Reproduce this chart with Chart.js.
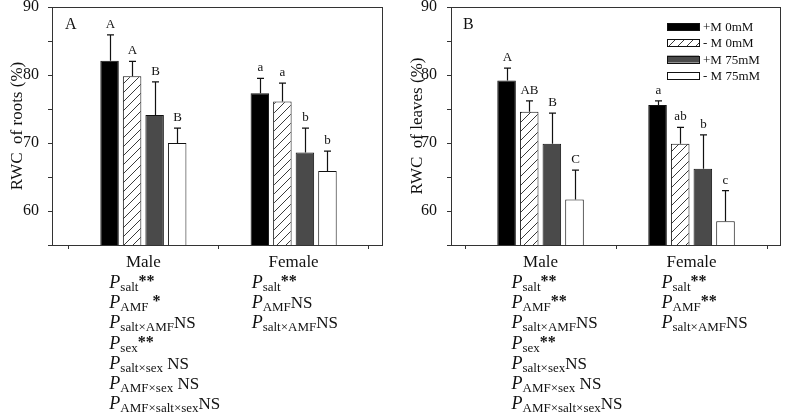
<!DOCTYPE html>
<html><head><meta charset="utf-8">
<script src="https://cdn.jsdelivr.net/npm/chart.js@4.4.0/dist/chart.umd.min.js"></script>
<style>
html,body{margin:0;padding:0;background:#fff;}
#wrap{position:relative;width:787px;height:416px;overflow:hidden;}
.c{position:absolute;top:0;height:416px;}
</style></head><body>
<div id="wrap">
<div class="c" style="left:0;width:400px"><canvas id="a"></canvas></div>
<div class="c" style="left:400px;width:387px"><canvas id="b"></canvas></div>
</div>
<script>
// ---------- data ----------
const categories = ['Male', 'Female'];
const seriesLabels = ['+M 0mM', '- M 0mM', '+M 75mM', '- M 75mM'];
const yTickLabels = ['60', '70', '80', '90'];

// Panel A: RWC of roots (%)
const rootsPlusM0   = [82.1, 77.3];
const rootsMinusM0  = [79.8, 76.1];
const rootsPlusM75  = [74.1, 68.6];
const rootsMinusM75 = [70.0, 65.9];
const rootsErrPlusM0   = [3.8, 2.2];
const rootsErrMinusM0  = [2.2, 2.7];
const rootsErrPlusM75  = [4.9, 3.6];
const rootsErrMinusM75 = [2.2, 2.9];
const rootsLetPlusM0   = ['A', 'a'];
const rootsLetMinusM0  = ['A', 'a'];
const rootsLetPlusM75  = ['B', 'b'];
const rootsLetMinusM75 = ['B', 'b'];

// Panel B: RWC of leaves (%)
const leavesPlusM0   = [79.2, 75.6];
const leavesMinusM0  = [74.6, 69.9];
const leavesPlusM75  = [69.9, 66.2];
const leavesMinusM75 = [61.7, 58.5];
const leavesErrPlusM0   = [1.8, 0.6];
const leavesErrMinusM0  = [1.6, 2.4];
const leavesErrPlusM75  = [4.5, 5.0];
const leavesErrMinusM75 = [4.3, 4.5];
const leavesLetPlusM0   = ['A', 'a'];
const leavesLetMinusM0  = ['AB', 'ab'];
const leavesLetPlusM75  = ['B', 'b'];
const leavesLetMinusM75 = ['C', 'c'];

// ANOVA annotations: [subscript, result]
const rootsStatsMale = [['salt','**'],['AMF',' *'],['salt×AMF','NS'],['sex','**'],['salt×sex',' NS'],['AMF×sex',' NS'],['AMF×salt×sex','NS']];
const rootsStatsFemale = [['salt','**'],['AMF','NS'],['salt×AMF','NS']];
const leavesStatsMale = [['salt','**'],['AMF','**'],['salt×AMF','NS'],['sex','**'],['salt×sex','NS'],['AMF×sex',' NS'],['AMF×salt×sex','NS']];
const leavesStatsFemale = [['salt','**'],['AMF','**'],['salt×AMF','NS']];

// ---------- styles ----------
const SERIF = '"Liberation Serif", "DejaVu Serif", serif';
function hatch() {
  const c = document.createElement('canvas'); c.width = 9; c.height = 9;
  const g = c.getContext('2d');
  g.fillStyle = '#fff'; g.fillRect(0, 0, 9, 9);
  g.strokeStyle = '#3a3a3a'; g.lineWidth = 1;
  g.beginPath();
  g.moveTo(-1, 10); g.lineTo(10, -1);
  g.moveTo(-1, 1); g.lineTo(1, -1);
  g.moveTo(8, 10); g.lineTo(10, 8);
  g.stroke();
  return g.createPattern(c, 'repeat');
}
const fills = ['#000000', hatch(), '#4a4a4a', '#ffffff'];

function makeDatasets(vals, errs, lets) {
  return vals.map((arr, k) => ({
    label: seriesLabels[k],
    data: arr.map((v, i) => ({x: i, y: v})),
    errors: errs[k],
    letters: lets[k],
    backgroundColor: fills[k],
    borderColor: '#111',
    borderWidth: 1,
    borderSkipped: false,
    barPercentage: 0.82,
    categoryPercentage: 0.6
  }));
}

const errorBars = {
  id: 'errorBars',
  afterDatasetsDraw(chart) {
    const ctx = chart.ctx, ys = chart.scales.y;
    chart.data.datasets.forEach((ds, di) => {
      chart.getDatasetMeta(di).data.forEach((bar, i) => {
        const top = ys.getPixelForValue(ds.data[i].y + ds.errors[i]);
        const x = Math.round(bar.x) + 0.5;
        ctx.save();
        ctx.strokeStyle = '#111'; ctx.lineWidth = 1.2;
        ctx.beginPath();
        ctx.moveTo(x, bar.y); ctx.lineTo(x, top);
        ctx.moveTo(x - 3.5, top); ctx.lineTo(x + 3.5, top);
        ctx.stroke();
        ctx.fillStyle = '#111';
        ctx.font = '13px ' + SERIF;
        ctx.textAlign = 'center'; ctx.textBaseline = 'alphabetic';
        ctx.fillText(ds.letters[i], x, top - 7);
        ctx.restore();
      });
    });
  }
};

const frame = {
  id: 'frame',
  afterDraw(chart, args, opts) {
    const {left, top, right, bottom} = chart.chartArea;
    const ctx = chart.ctx;
    ctx.save();
    ctx.strokeStyle = '#333'; ctx.lineWidth = 1;
    ctx.strokeRect(Math.round(left) + 0.5, Math.round(top) + 0.5, Math.round(right - left), Math.round(bottom - top));
    ctx.fillStyle = '#111';
    ctx.font = '16px ' + SERIF;
    ctx.textAlign = 'left'; ctx.textBaseline = 'alphabetic';
    ctx.fillText(opts.letter, left + opts.letterDx, top + 22);
    ctx.restore();
  }
};

const stats = {
  id: 'stats',
  afterDraw(chart, args, opts) {
    const ctx = chart.ctx, xs = chart.scales.x;
    opts.groups.forEach((rows, gi) => {
      const x0 = xs.getPixelForValue(gi) + opts.dx[gi];
      rows.forEach((row, ri) => {
        const y = opts.y0 + ri * opts.step;
        ctx.save();
        ctx.fillStyle = '#111'; ctx.textAlign = 'left'; ctx.textBaseline = 'alphabetic';
        ctx.font = 'italic 18px ' + SERIF;
        ctx.fillText('P', x0, y);
        let cx = x0 + ctx.measureText('P').width;
        ctx.font = '13px ' + SERIF;
        ctx.fillText(row[0], cx, y + 3);
        cx += ctx.measureText(row[0]).width;
        if (row[1].indexOf('*') >= 0) {
          ctx.font = 'bold 16px ' + SERIF;
          ctx.fillText(row[1], cx, y - 2);
        } else {
          ctx.font = '17px ' + SERIF;
          ctx.fillText(row[1], cx, y);
        }
        ctx.restore();
      });
    });
  }
};

const legendBox = {
  id: 'legendBox',
  afterDraw(chart, args, opts) {
    if (!opts.show) return;
    const ctx = chart.ctx, ca = chart.chartArea;
    chart.data.datasets.forEach((ds, k) => {
      const bx = ca.right - 113, cy = ca.top + 19.5 + k * 16.3;
      ctx.save();
      ctx.fillStyle = ds.backgroundColor;
      ctx.fillRect(bx, cy - 3.5, 32, 7);
      ctx.strokeStyle = '#111'; ctx.lineWidth = 1;
      ctx.strokeRect(Math.round(bx) + 0.5, Math.round(cy - 3.5) + 0.5, 32, 7);
      ctx.fillStyle = '#111';
      ctx.font = '13px ' + SERIF;
      ctx.textAlign = 'left'; ctx.textBaseline = 'middle';
      ctx.fillText(ds.label, bx + 36, cy + 1);
      ctx.restore();
    });
  }
};

function makeChart(id, datasets, cfg) {
  return new Chart(document.getElementById(id), {
    type: 'bar',
    data: {datasets},
    plugins: [errorBars, frame, stats, legendBox],
    options: {
      responsive: true, maintainAspectRatio: false, animation: false,
      devicePixelRatio: 1,
      layout: {padding: {left: 0, top: 7, right: cfg.padRight, bottom: 0}},
      plugins: {
        legend: {display: false}, tooltip: {enabled: false},
        frame: {letter: cfg.letter, letterDx: cfg.letterDx},
        stats: {groups: cfg.groups, dx: cfg.dx, y0: 288, step: 20.2},
        legendBox: {show: cfg.legend}
      },
      scales: {
        x: {
          type: 'linear', min: cfg.xmin, max: cfg.xmax, offset: false,
          afterBuildTicks: s => { s.ticks = categories.map((c, i) => ({value: i})); },
          ticks: {
            callback: v => categories[v] !== undefined ? categories[v] : '',
            font: {family: SERIF, size: 17}, color: '#111', padding: 3,
            maxRotation: 0, autoSkip: false
          },
          grid: {display: true, drawOnChartArea: false, drawTicks: true, tickLength: 4, color: '#333'},
          border: {display: true, color: '#333', width: 1},
          afterFit: s => { s.height = 171; s.paddingLeft = 0; s.paddingRight = 0; }
        },
        y: {
          min: 55, max: 90,
          ticks: {
            stepSize: 5,
            callback: v => yTickLabels.includes(String(v)) ? String(v) : '',
            font: {family: SERIF, size: 16, lineHeight: 1}, color: '#111', padding: cfg.tickPad
          },
          grid: {display: true, drawOnChartArea: false, drawTicks: true, tickLength: 4, color: '#333'},
          border: {display: true, color: '#333', width: 1},
          title: {display: true, text: cfg.title, font: {family: SERIF, size: 17}, color: '#111', padding: {top: 7, bottom: 0}},
          afterFit: s => { s.width = cfg.yWidth; s.paddingTop = 0; s.paddingBottom = 0; }
        }
      }
    }
  });
}

makeChart('a',
  makeDatasets([rootsPlusM0, rootsMinusM0, rootsPlusM75, rootsMinusM75],
               [rootsErrPlusM0, rootsErrMinusM0, rootsErrPlusM75, rootsErrMinusM75],
               [rootsLetPlusM0, rootsLetMinusM0, rootsLetPlusM75, rootsLetMinusM75]),
  {padRight: 18, yWidth: 52, tickPad: 9, title: 'RWC  of roots (%)', letter: 'A', letterDx: 13,
   xmin: -0.608, xmax: 1.588, groups: [rootsStatsMale, rootsStatsFemale], dx: [-34, -42], legend: false});

makeChart('b',
  makeDatasets([leavesPlusM0, leavesMinusM0, leavesPlusM75, leavesMinusM75],
               [leavesErrPlusM0, leavesErrMinusM0, leavesErrPlusM75, leavesErrMinusM75],
               [leavesLetPlusM0, leavesLetMinusM0, leavesLetPlusM75, leavesLetMinusM75]),
  {padRight: 7, yWidth: 51, tickPad: 10, title: 'RWC  of leaves (%)', letter: 'B', letterDx: 12,
   xmin: -0.593, xmax: 1.586, groups: [leavesStatsMale, leavesStatsFemale], dx: [-29, -30], legend: true});
</script>
</body></html>
